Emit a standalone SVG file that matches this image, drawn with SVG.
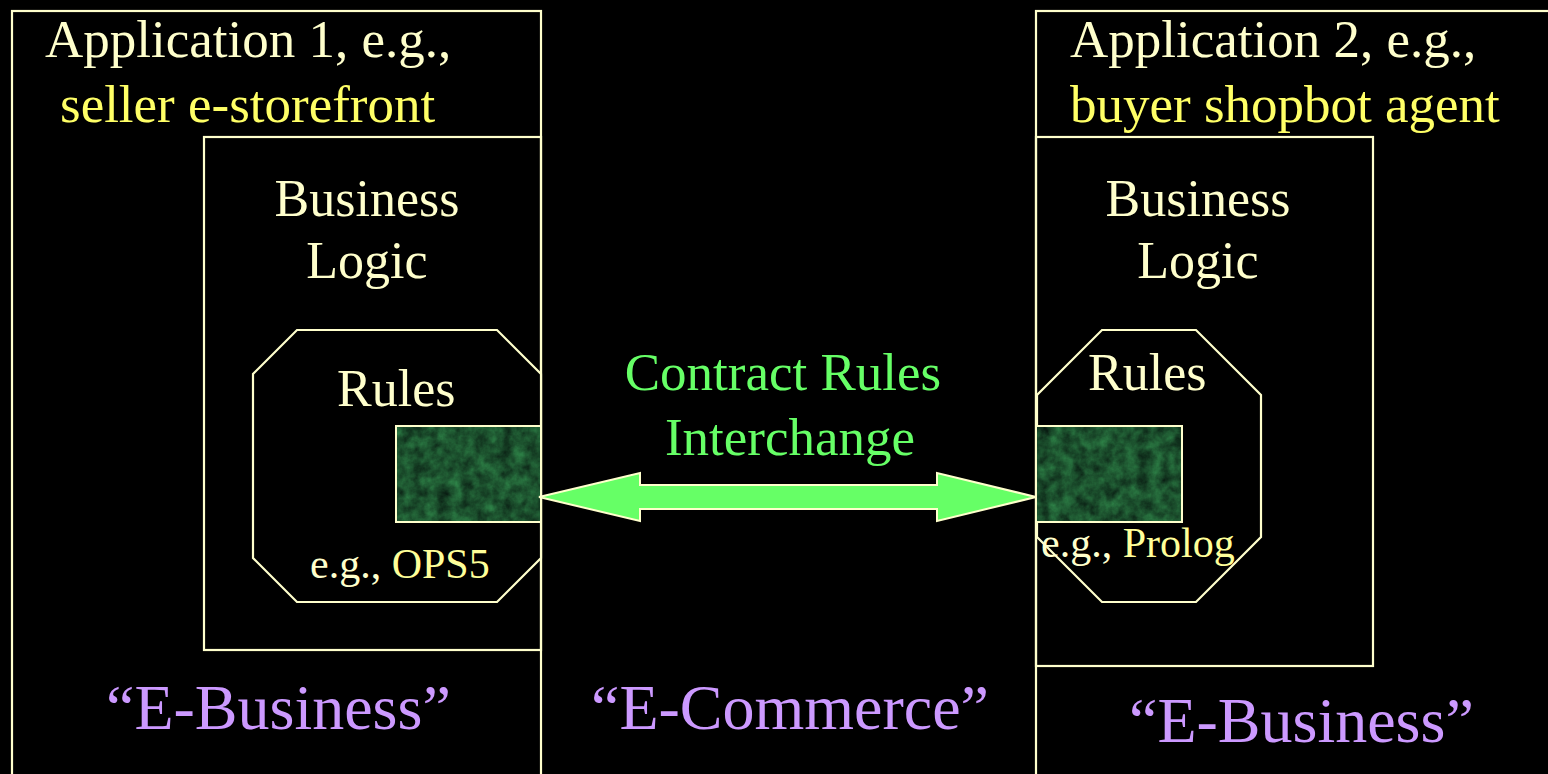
<svg xmlns="http://www.w3.org/2000/svg" width="1548" height="774" viewBox="0 0 1548 774">
<style>
.ln{fill:none;stroke:#FFFFCC;stroke-width:2.2}
.oct{fill:#000;stroke:#FFFFCC;stroke-width:2.2}
.t{font-family:"Liberation Serif","Times New Roman",serif}
.cream{fill:#FFFFCC}
.yel{fill:#FFFF66}
.yel2{fill:#FFFF99}
.grn{fill:#66FF66}
.pur{fill:#CC99FF}
.tex{fill:#1E5A3A;filter:url(#marble)}
.texb{fill:none;stroke:#FFFFCC;stroke-width:2}
</style>
<defs>
<filter id="marble" x="0" y="0" width="1" height="1" color-interpolation-filters="sRGB">
<feTurbulence type="fractalNoise" baseFrequency="0.08" numOctaves="4" seed="4" result="n"/>
<feColorMatrix in="n" type="matrix" values="0.18 0 0 0 0.02  0.5 0 0 0 0.07  0.26 0 0 0 0.05  0 0 0 0 1" result="c"/>
<feComposite in="c" in2="SourceGraphic" operator="in"/>
</filter>
</defs>
<rect width="1548" height="774" fill="#000"/>

<g id="app1">
<rect class="ln" x="12" y="11" width="529" height="800"/>
<text class="t cream" x="45" y="57" font-size="53">Application 1, e.g.,</text>
<text class="t yel" x="60" y="122" font-size="53">seller e-storefront</text>
</g>

<g id="app2">
<rect class="ln" x="1036" y="11" width="560" height="800"/>
<text class="t cream" x="1070" y="57" font-size="53">Application 2, e.g.,</text>
<text class="t yel" x="1070" y="122" font-size="53">buyer shopbot agent</text>
</g>

<g id="logic1">
<rect class="ln" x="204" y="137" width="337" height="513"/>
<text class="t cream" x="367" y="216" font-size="52" text-anchor="middle">Business</text>
<text class="t cream" x="367" y="278" font-size="52" text-anchor="middle">Logic</text>
</g>

<g id="logic2">
<rect class="ln" x="1036" y="137" width="337" height="529"/>
<text class="t cream" x="1198" y="216" font-size="52" text-anchor="middle">Business</text>
<text class="t cream" x="1198" y="278" font-size="52" text-anchor="middle">Logic</text>
</g>

<g id="rules1">
<polygon class="oct" points="297,330 497,330 541,374 541,558 497,602 297,602 253,558 253,374"/>
<text class="t cream" x="337" y="406" font-size="52">Rules</text>
<rect class="tex" x="396" y="426" width="145" height="96"/>
<rect class="texb" x="396" y="426" width="145" height="96"/>
<text class="t" x="310" y="578" font-size="42"><tspan class="cream">e.g., </tspan><tspan class="yel2">OPS5</tspan></text>
</g>

<g id="rules2">
<polygon class="oct" points="1102,330 1196,330 1261,395 1261,537 1196,602 1102,602 1037,537 1037,395"/>
<text class="t cream" x="1088" y="390" font-size="52">Rules</text>
<rect class="tex" x="1036" y="426" width="146" height="96"/>
<rect class="texb" x="1036" y="426" width="146" height="96"/>
<text class="t" x="1041" y="557" font-size="42"><tspan class="cream">e.g., </tspan><tspan class="yel2">Prolog</tspan></text>
</g>

<g id="connectors">
<polygon points="539,497 640,473 640,485 937,485 937,473 1036,497 937,521 937,509 640,509 640,521" fill="#66FF66" stroke="#FFFFCC" stroke-width="2" stroke-linejoin="miter"/>
</g>

<g id="labels">
<text class="t grn" x="783" y="390" font-size="53" text-anchor="middle">Contract Rules</text>
<text class="t grn" x="790" y="455" font-size="53" text-anchor="middle">Interchange</text>
<text class="t pur" x="106" y="729" font-size="64">“E-Business”</text>
<text class="t pur" x="591" y="729" font-size="64">“E-Commerce”</text>
<text class="t pur" x="1129" y="742" font-size="64">“E-Business”</text>
</g>
</svg>
